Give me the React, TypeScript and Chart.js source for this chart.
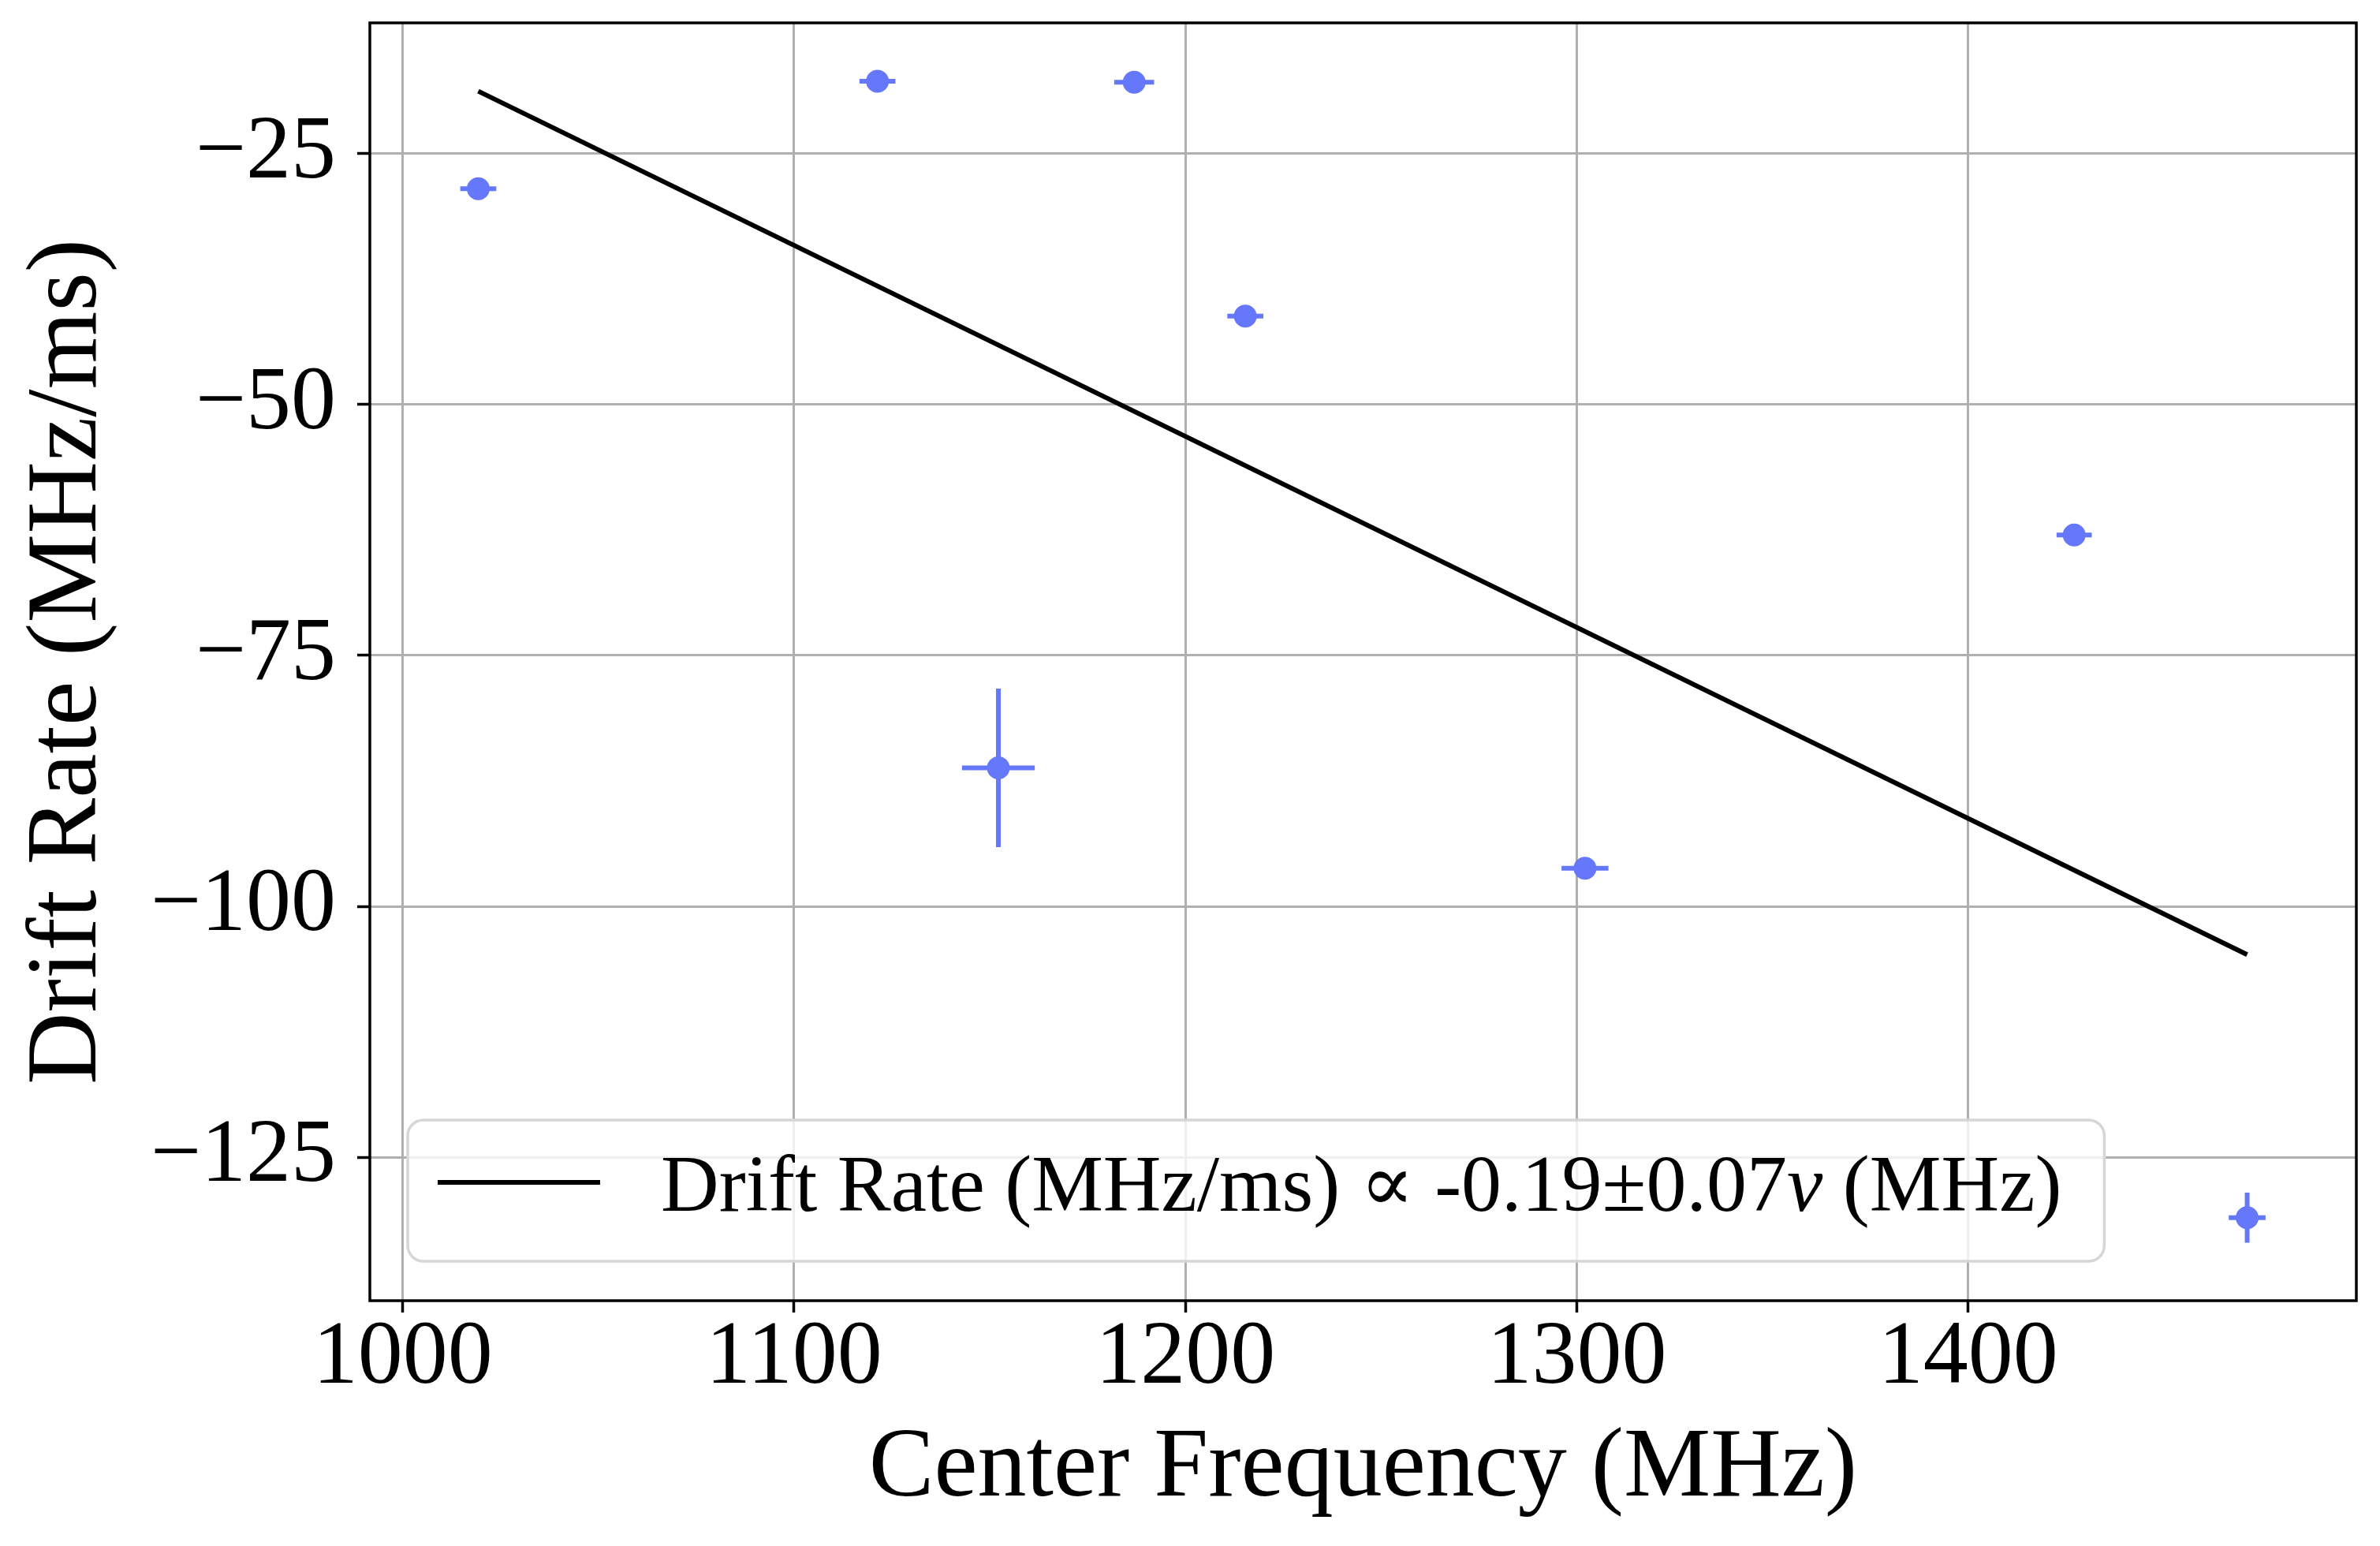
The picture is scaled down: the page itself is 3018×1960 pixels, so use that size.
import { Chart, registerables } from 'chart.js';
import { useEffect, useRef } from 'react';

Chart.register(...registerables);

// measured points: centre frequency (MHz) vs drift rate (MHz/ms)
const freqs = [1019.3, 1121.3, 1152.2, 1186.9, 1215.3, 1302.1, 1427.1, 1471.3];
const drifts = [-28.5, -17.8, -86.2, -17.9, -41.2, -96.2, -63.0, -131.0];
const freqErr = [4.6, 4.6, 9.3, 5.1, 4.6, 6.0, 4.5, 4.7];
const driftErr = [0.6, 0.6, 7.9, 0.6, 0.6, 0.8, 0.6, 2.5];

// fitted line end points
const fitFreqs = [1019.3, 1471.3];
const fitDrifts = [-18.8, -104.8];

const xTicks = [1000, 1100, 1200, 1300, 1400];
const yTicks = [-125, -100, -75, -50, -25];

const legendParts = [
    { text: 'Drift Rate (MHz/ms) \u221D -0.19\u00B10.07', italic: false },
    { text: '\u03BD', italic: true },
    { text: ' (MHz)', italic: false },
];

const serif = '"Liberation Serif", "DejaVu Serif", serif';
const pointColor = '#6577fa';

const errorBars = {
    id: 'errorBars',
    beforeDatasetsDraw(chart: any) {
        const { ctx, scales: { x, y } } = chart;
        ctx.save();
        ctx.strokeStyle = pointColor;
        ctx.lineWidth = 6;
        freqs.forEach((f, i) => {
            const px = x.getPixelForValue(f);
            const py = y.getPixelForValue(drifts[i]);
            ctx.beginPath();
            ctx.moveTo(x.getPixelForValue(f - freqErr[i]), py);
            ctx.lineTo(x.getPixelForValue(f + freqErr[i]), py);
            ctx.moveTo(px, y.getPixelForValue(drifts[i] - driftErr[i]));
            ctx.lineTo(px, y.getPixelForValue(drifts[i] + driftErr[i]));
            ctx.stroke();
        });
        ctx.restore();
    }
};

const frame = {
    id: 'frame',
    afterDatasetsDraw(chart: any) {
        const { ctx, chartArea: a } = chart;
        ctx.save();
        ctx.strokeStyle = '#000';
        ctx.lineWidth = 3.5;
        ctx.strokeRect(a.left, a.top, a.right - a.left, a.bottom - a.top);
        ctx.restore();
    }
};

const legendBox = {
    id: 'legendBox',
    afterDraw(chart: any) {
        const { ctx, chartArea: a } = chart;
        const fontSize = 102;
        ctx.save();
        let textW = 0;
        legendParts.forEach(p => {
            ctx.font = `${p.italic ? 'italic ' : ''}${fontSize}px ${serif}`;
            textW += ctx.measureText(p.text).width;
        });
        const h = 179;
        const left = a.left + 48;
        const top = a.bottom - 50 - h;
        const textX = left + 321;
        const w = textX - left + textW + 54;

        ctx.beginPath();
        ctx.roundRect(left, top, w, h, 20);
        ctx.fillStyle = 'rgba(255,255,255,0.8)';
        ctx.fill();
        ctx.strokeStyle = '#d6d6d6';
        ctx.lineWidth = 3.5;
        ctx.stroke();

        ctx.beginPath();
        ctx.strokeStyle = '#000';
        ctx.lineWidth = 6;
        ctx.moveTo(left + 38, top + 79);
        ctx.lineTo(left + 244, top + 79);
        ctx.stroke();

        ctx.fillStyle = '#000';
        ctx.textBaseline = 'alphabetic';
        ctx.textAlign = 'left';
        let x = textX;
        legendParts.forEach(p => {
            ctx.font = `${p.italic ? 'italic ' : ''}${fontSize}px ${serif}`;
            ctx.fillText(p.text, x, top + 115);
            x += ctx.measureText(p.text).width;
        });
        ctx.restore();
    }
};

function DriftChart() {
    const canvasRef = useRef<HTMLCanvasElement>(null);
    const chartRef = useRef<Chart | null>(null);

    useEffect(() => {
        if (!canvasRef.current) return;
        const ctx = canvasRef.current.getContext('2d');
        if (!ctx) return;

        if (chartRef.current) chartRef.current.destroy();

        chartRef.current = new Chart(ctx, {
            type: 'scatter',
            data: {
                datasets: [
                    {
                        label: 'points',
                        data: freqs.map((f, i) => ({ x: f, y: drifts[i] })),
                        backgroundColor: pointColor,
                        borderWidth: 0,
                        pointRadius: 14.5,
                        pointHoverRadius: 14.5,
                    },
                    {
                        label: 'Drift Rate (MHz/ms) \u221D -0.19\u00B10.07\u03BD (MHz)',
                        data: fitFreqs.map((f, i) => ({ x: f, y: fitDrifts[i] })),
                        showLine: true,
                        borderColor: '#000',
                        borderWidth: 6,
                        pointRadius: 0,
                        pointHoverRadius: 0,
                    }
                ]
            },
            options: {
                animation: false,
                responsive: true,
                maintainAspectRatio: false,
                events: [],
                layout: { padding: { top: 29, right: 30, left: 0, bottom: 0 } },
                plugins: {
                    legend: { display: false },
                    tooltip: { enabled: false },
                },
                scales: {
                    x: {
                        type: 'linear',
                        min: 991.6,
                        max: 1499.2,
                        afterBuildTicks: (s: any) => { s.ticks = xTicks.map(v => ({ value: v })); },
                        afterFit: (s: any) => { s.height = 311; s.paddingLeft = 0; s.paddingRight = 0; },
                        border: { display: false },
                        grid: { color: '#b0b0b0', lineWidth: 3, tickColor: '#000', tickLength: 15, tickWidth: 3.5 },
                        ticks: {
                            color: '#000',
                            font: { family: serif, size: 114, lineHeight: 1 },
                            padding: 2,
                            maxRotation: 0,
                            autoSkip: false,
                            callback: (v: any) => String(v),
                        },
                        title: {
                            display: true,
                            text: 'Center Frequency (MHz)',
                            color: '#000',
                            font: { family: serif, size: 124 },
                            padding: { top: 0, bottom: 22 },
                        }
                    },
                    y: {
                        type: 'linear',
                        min: -139.27,
                        max: -11.99,
                        afterBuildTicks: (s: any) => { s.ticks = yTicks.map(v => ({ value: v })); },
                        afterFit: (s: any) => { s.width = 469; s.paddingTop = 0; s.paddingBottom = 0; },
                        border: { display: false },
                        grid: { color: '#b0b0b0', lineWidth: 3, tickColor: '#000', tickLength: 16, tickWidth: 3.5 },
                        ticks: {
                            color: '#000',
                            font: { family: serif, size: 114 },
                            padding: 27,
                            autoSkip: false,
                            callback: (v: any) => (v < 0 ? '\u2212' + Math.abs(v) : String(v)),
                        },
                        title: {
                            display: true,
                            text: 'Drift Rate (MHz/ms)',
                            color: '#000',
                            font: { family: serif, size: 127 },
                            padding: { top: 11, bottom: 0 },
                        }
                    }
                }
            },
            plugins: [errorBars, frame, legendBox]
        });

        return () => {
            if (chartRef.current) {
                chartRef.current.destroy();
                chartRef.current = null;
            }
        };
    }, []);

    return <canvas ref={canvasRef} />;
}

export default function App() {
    return (
        <div style={{ position: 'fixed', left: 0, top: 0, width: 3018, height: 1960, background: '#fff' }}>
            <DriftChart />
        </div>
    );
}
